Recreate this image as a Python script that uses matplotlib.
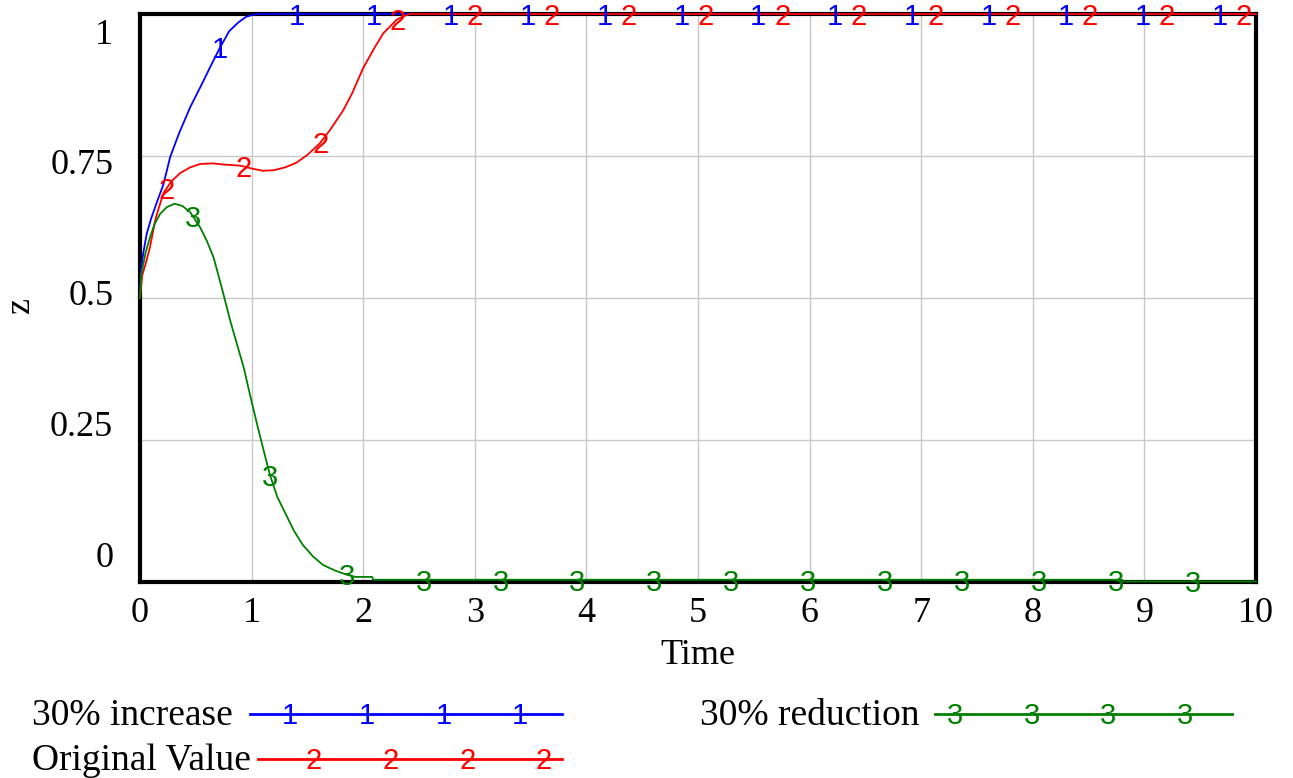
import numpy as np
import matplotlib
matplotlib.use("Agg")
import matplotlib.pyplot as plt
from matplotlib.lines import Line2D

# values (Vensim style run comparison)
t_increase = [0, 0.01, 0.03, 0.06, 0.1, 0.15, 0.21, 0.27, 0.35, 0.45, 0.55,
              0.65, 0.72, 0.8, 0.88, 0.95, 1.0, 1.05, 10]
z_increase = [0.5, 0.55, 0.58, 0.613, 0.64, 0.668, 0.70, 0.748, 0.79, 0.836, 0.875,
              0.915, 0.942, 0.97, 0.985, 0.995, 0.998, 1.0, 1.0]

t_original = [0, 0.02, 0.05, 0.09, 0.14, 0.21, 0.28, 0.36, 0.45, 0.54, 0.65, 0.75,
              0.9, 1.0, 1.1, 1.2, 1.3, 1.4, 1.5, 1.61, 1.7, 1.82, 1.9, 2.0, 2.1,
              2.18, 2.25, 2.3, 2.36, 2.42, 10]
z_original = [0.5, 0.54, 0.56, 0.59, 0.64, 0.685, 0.705, 0.72, 0.73, 0.736, 0.737, 0.735,
              0.733, 0.728, 0.724, 0.725, 0.73, 0.738, 0.752, 0.772, 0.795, 0.83, 0.86, 0.905, 0.94,
              0.966, 0.98, 0.99, 0.996, 1.0, 1.0]

t_reduction = [0, 0.01, 0.05, 0.09, 0.13, 0.18, 0.24, 0.31, 0.38, 0.45, 0.54, 0.6,
               0.66, 0.73, 0.81, 0.87, 0.93, 0.99, 1.05, 1.11, 1.165, 1.23, 1.31, 1.38,
               1.46, 1.55, 1.64, 1.75, 1.85, 1.93, 2.08, 2.09, 8.8, 8.81, 10]
z_reduction = [0.5, 0.54, 0.58, 0.607, 0.63, 0.648, 0.66, 0.666, 0.662, 0.651, 0.624, 0.6,
               0.571, 0.52, 0.459, 0.418, 0.377, 0.326, 0.277, 0.23, 0.188, 0.15, 0.118, 0.09,
               0.065, 0.045, 0.03, 0.02, 0.013, 0.009, 0.009, 0.004, 0.004, 0.001, 0.001]

series = [
    ("30% increase", "1", "#0000ff", t_increase, z_increase, 0.717),
    ("Original Value", "2", "#ff0000", t_original, z_original, 0.242),
    ("30% reduction", "3", "#008000", t_reduction, z_reduction, 0.475),
]
x_ticks = [0, 1, 2, 3, 4, 5, 6, 7, 8, 9, 10]
y_ticks = [0, 0.25, 0.5, 0.75, 1]
y_labels = ["0", "0.25", "0.5", "0.75", "1"]

W, H = 1293, 778
serif = "Liberation Serif"
sans = "Liberation Sans"
mark_step = 0.689

fig = plt.figure(figsize=(W / 100, H / 100), dpi=100)
ax = fig.add_axes([140 / W, 1 - 582 / H, (1256 - 140) / W, (582 - 14) / H])

for name, digit, col, t, z, first in series:
    ax.plot(t, z, color=col, lw=1.3, zorder=3, clip_on=False)
    for tm in np.arange(first, 10, mark_step):
        ax.annotate(digit, (tm, np.interp(tm, t, z)), xytext=(0, -2),
                    textcoords="offset points", color=col, fontsize=21,
                    family=sans, ha="center", va="center", zorder=4,
                    annotation_clip=False)

ax.set_xlim(0, 10)
ax.set_ylim(0, 1)
ax.set_xticks(x_ticks)
ax.set_xticklabels([str(v) for v in x_ticks], fontsize=26, family=serif)
ax.set_yticks(y_ticks)
ax.set_yticklabels([])
ax.tick_params(length=0, pad=11)
ax.grid(True, color="#c8c8c8", lw=1)
ax.set_axisbelow(True)
for sp in ax.spines.values():
    sp.set_linewidth(3)
    sp.set_zorder(2.5)

# Vensim spreads the y labels over a slightly shorter span than the grid
for v, lab in zip(y_ticks, y_labels):
    ax.text(-0.024, 0.042 + 0.921 * v, lab, transform=ax.transAxes, ha="right",
            va="center", fontsize=26, family=serif)

fig.text(698 / W, 1 - 656 / H, "Time", ha="center", va="center", fontsize=26, family=serif)
fig.text(20 / W, 1 - 305 / H, "z", ha="center", va="center", rotation=90,
         fontsize=26, family=serif)

# legend drawn by hand, Vensim layout
legend_pos = [
    (32, 716, 250, 562, 290),
    (32, 761, 258, 562, 314),
    (700, 716, 935, 1232, 955),
]
for (name, digit, col, t, z, first), (tx, ly, x0, x1, m0) in zip(series, legend_pos):
    fig.text(tx / W, 1 - ly / H, name, ha="left", va="center", fontsize=27, family=serif)
    fig.add_artist(Line2D([x0 / W, x1 / W], [1 - (ly - 2) / H, 1 - (ly - 2) / H], color=col,
                          lw=2, transform=fig.transFigure))
    for k in range(4):
        fig.text((m0 + k * 76.7) / W, 1 - ly / H, digit, color=col, fontsize=21,
                 family=sans, ha="center", va="center")

fig.savefig("out.png", dpi=100)
